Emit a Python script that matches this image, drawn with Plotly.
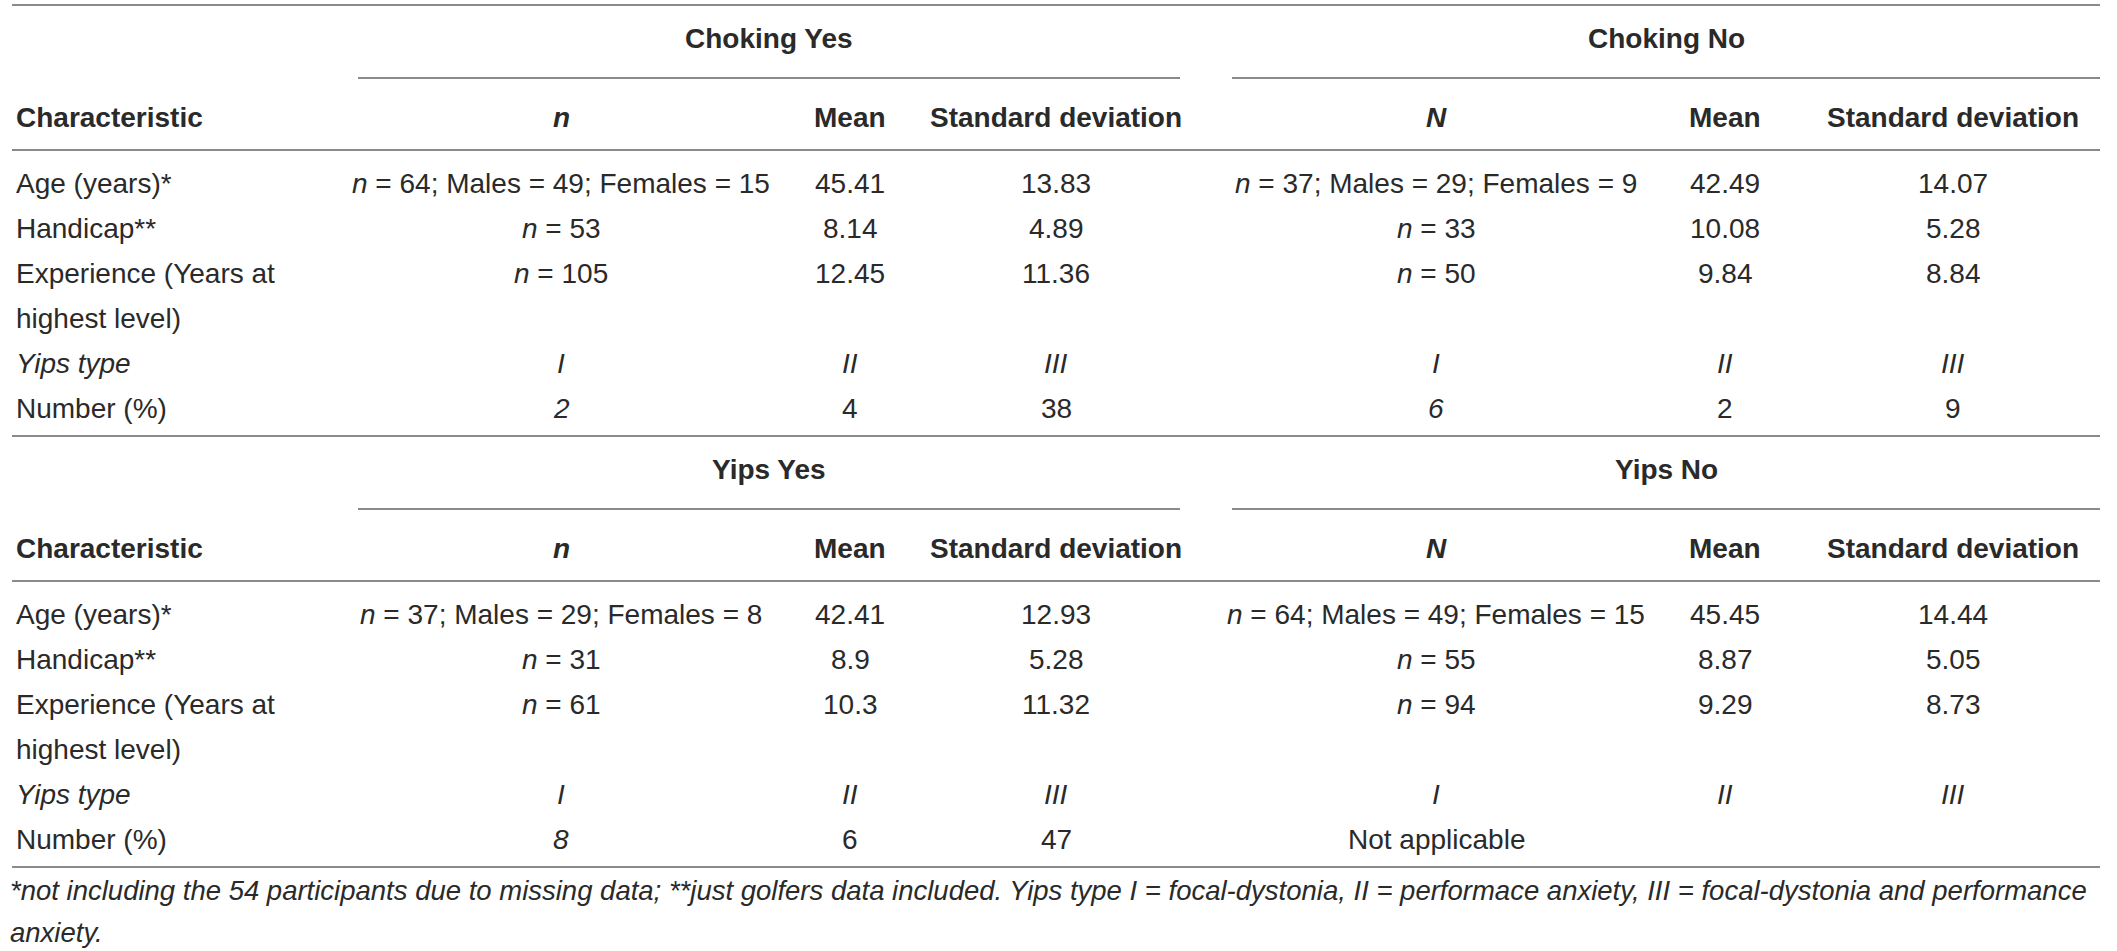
import plotly.graph_objects as go

# table content
characteristics = ["Age (years)*", "Handicap**", "Experience (Years at", "Yips type", "Number (%)"]
characteristic_cont = "highest level)"
yips_types = ["I", "II", "III"]

groups = ["Choking Yes", "Choking No", "Yips Yes", "Yips No"]
n_header = ["n", "N", "n", "N"]

# age row: n, males, females
age_counts = [(64, 49, 15), (37, 29, 9), (37, 29, 8), (64, 49, 15)]
handicap_n = [53, 33, 31, 55]
experience_n = [105, 50, 61, 94]

age_mean = [45.41, 42.49, 42.41, 45.45]
age_sd = [13.83, 14.07, 12.93, 14.44]
handicap_mean = [8.14, 10.08, 8.9, 8.87]
handicap_sd = [4.89, 5.28, 5.28, 5.05]
experience_mean = [12.45, 9.84, 10.3, 9.29]
experience_sd = [11.36, 8.84, 11.32, 8.73]

# number (%) per yips type I, II, III
yips_number = [[2, 4, 38], [6, 2, 9], [8, 6, 47], None]
not_applicable = "Not applicable"

footnote = ["*not including the 54 participants due to missing data; **just golfers data included. "
            "Yips type I = focal-dystonia, II = performace anxiety, III = focal-dystonia and performance",
            "anxiety."]

# layout (pixels)
W, H = 2117, 951
FONT = "Liberation Sans"
FS = 28
TXT = "#2a2a2a"
LINE = "#8a8a8a"
x_left, x_right = 12, 2100
x_char = 14
col_x = [[561, 850, 1056], [1436, 1725, 1953]]
span = [(358, 1180), (1232, 2100)]
sec_dy = 431
row_step = 45

fig = go.Figure()
ann = []
shapes = []


def text(x, y, s, anchor="center", bold=False, italic=False, size=FS):
    if bold:
        s = "<b>" + s + "</b>"
    if italic:
        s = "<i>" + s + "</i>"
    ann.append(dict(x=x, y=y, xref="x", yref="y", text=s, showarrow=False,
                    xanchor=anchor, yanchor="middle",
                    font=dict(family=FONT, size=size, color=TXT)))


def hline(x0, x1, y):
    shapes.append(dict(type="line", xref="x", yref="y", x0=x0, x1=x1, y0=y, y1=y,
                       line=dict(color=LINE, width=2)))


for s in range(2):
    oy = s * sec_dy
    hline(x_left, x_right, 5 + oy)
    for k in range(2):
        g = s * 2 + k
        cx = col_x[k]
        text((span[k][0] + span[k][1]) / 2, 38 + oy, groups[g], bold=True)
        hline(span[k][0], span[k][1], 78 + oy)
        text(cx[0], 117 + oy, "<i>" + n_header[g] + "</i>", bold=True)
        text(cx[1], 117 + oy, "Mean", bold=True)
        text(cx[2], 117 + oy, "Standard deviation", bold=True)

        r0 = 183 + oy
        a = age_counts[g]
        text(cx[0], r0, "<i>n</i> = %d; Males = %d; Females = %d" % a)
        text(cx[1], r0, str(age_mean[g]))
        text(cx[2], r0, str(age_sd[g]))

        text(cx[0], r0 + row_step, "<i>n</i> = %d" % handicap_n[g])
        text(cx[1], r0 + row_step, str(handicap_mean[g]))
        text(cx[2], r0 + row_step, str(handicap_sd[g]))

        text(cx[0], r0 + 2 * row_step, "<i>n</i> = %d" % experience_n[g])
        text(cx[1], r0 + 2 * row_step, str(experience_mean[g]))
        text(cx[2], r0 + 2 * row_step, str(experience_sd[g]))

        for j in range(3):
            text(cx[j], r0 + 4 * row_step, yips_types[j], italic=True)
        if yips_number[g] is None:
            text(cx[0], r0 + 5 * row_step, not_applicable)
        else:
            for j, v in enumerate(yips_number[g]):
                text(cx[j], r0 + 5 * row_step, str(v), italic=(j == 0))

    text(x_char, 117 + oy, "Characteristic", anchor="left", bold=True)
    r0 = 183 + oy
    text(x_char, r0, characteristics[0], anchor="left")
    text(x_char, r0 + row_step, characteristics[1], anchor="left")
    text(x_char, r0 + 2 * row_step, characteristics[2], anchor="left")
    text(x_char, r0 + 3 * row_step, characteristic_cont, anchor="left")
    text(x_char, r0 + 4 * row_step, characteristics[3], anchor="left", italic=True)
    text(x_char, r0 + 5 * row_step, characteristics[4], anchor="left")

    hline(x_left, x_right, 150 + oy)

hline(x_left, x_right, 867)

# footnote, two lines
for i, line in enumerate(footnote):
    text(8, 890 + i * 42, line, anchor="left", italic=True, size=27.5)

fig.update_layout(
    width=W, height=H,
    margin=dict(l=0, r=0, t=0, b=0),
    paper_bgcolor="white", plot_bgcolor="white",
    xaxis=dict(range=[0, W], visible=False, fixedrange=True),
    yaxis=dict(range=[H, 0], visible=False, fixedrange=True),
    annotations=ann, shapes=shapes, showlegend=False,
)

fig.write_html("out.html", config={"displayModeBar": False},
               post_script="document.body.style.margin='0';")
